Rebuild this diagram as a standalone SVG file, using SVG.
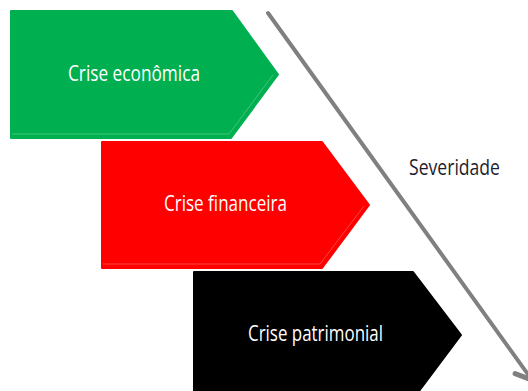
<svg xmlns="http://www.w3.org/2000/svg" width="528" height="391" viewBox="0 0 528 391">
  <defs>
    <style>
      .box { stroke-width: 2; stroke-linejoin: round; }
      .bevel { fill: none; stroke: #ffffff; stroke-opacity: 0.25; stroke-width: 1; }
      .lbl { font-family: "Open Sans", "Noto Sans", "DejaVu Sans", sans-serif; font-size: 21px; fill: #ffffff; text-anchor: middle; }
      .sev { font-family: "Open Sans", "Noto Sans", "DejaVu Sans", sans-serif; font-size: 21px; fill: #1e1e2e; }
      .axis { stroke: #808080; stroke-width: 4; stroke-linecap: round; fill: none; }
    </style>
    <marker id="arrow" markerUnits="userSpaceOnUse" markerWidth="30" markerHeight="30" refX="0" refY="0" viewBox="-16 -12 20 24" orient="auto" overflow="visible">
      <path d="M-12,-8 L0,0 L-12,8" fill="none" stroke="#808080" stroke-width="4" stroke-linecap="round" stroke-linejoin="miter"/>
    </marker>
  </defs>

  <g id="connectors">
    <line class="axis" x1="268" y1="13" x2="532" y2="380" marker-end="url(#arrow)"/>
  </g>

  <g id="crise-economica">
    <polygon class="box" fill="#00B050" stroke="#00B050" points="11,11 232,11 278,74.5 231,138 11,138"/>
    <polyline class="bevel" points="12,134 229,134 273,75"/>
    <text class="lbl" x="134" y="81" textLength="132" lengthAdjust="spacingAndGlyphs">Crise econômica</text>
  </g>

  <g id="crise-financeira">
    <polygon class="box" fill="#FF0000" stroke="#FF0000" points="102,142 322,142 369,205 322,268 102,268"/>
    <polyline class="bevel" points="103,264 320,264 364,206"/>
    <text class="lbl" x="225.5" y="211" textLength="123" lengthAdjust="spacingAndGlyphs">Crise financeira</text>
  </g>

  <g id="crise-patrimonial">
    <polygon class="box" fill="#000000" stroke="#000000" points="194,272 413,272 461,335 413,399 194,399"/>
    <text class="lbl" x="315.5" y="341" textLength="135" lengthAdjust="spacingAndGlyphs">Crise patrimonial</text>
  </g>

  <g id="severidade">
    <text class="sev" x="409" y="175" textLength="91" lengthAdjust="spacingAndGlyphs">Severidade</text>
  </g>
</svg>
